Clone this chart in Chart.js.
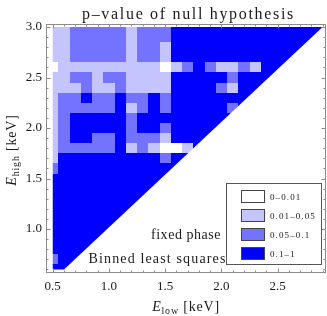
<!DOCTYPE html>
<html>
<head>
<meta charset="utf-8">
<script src="https://cdn.jsdelivr.net/npm/chart.js@4.4.1/dist/chart.umd.min.js"></script>
<style>
html, body {margin: 0; padding: 0; background: #fff;}
</style>
</head>
<body>
<canvas id="chart_p" width="327" height="316"></canvas>
<script>
//E_low 격자 (keV) - 열
const eLow = [0.5, 0.6, 0.7, 0.8, 0.9, 1.0, 1.1, 1.2, 1.3, 1.4, 1.5, 1.6, 1.7, 1.8, 1.9, 2.0, 2.1, 2.2, 2.3, 2.4, 2.5, 2.6, 2.7, 2.8, 2.9];
//E_high 격자 (keV) - 행 (위에서 아래로)
const eHigh = [3.0, 2.9, 2.8, 2.7, 2.6, 2.5, 2.4, 2.3, 2.2, 2.1, 2.0, 1.9, 1.8, 1.7, 1.6, 1.5, 1.4, 1.3, 1.2, 1.1, 1.0, 0.9, 0.8, 0.7, 0.6];
//p-value 등급 (0: 0-0.01, 1: 0.01-0.05, 2: 0.05-0.1, 3: 0.1-1), 행마다 eLow 순서
const pClass = [
    '1122222122233333333333333',
    '1122222122233333333333333',
    '1122222122133333333333333',
    '1122222122133333333333333',
    '0111111111012321121333333',
    '1122122111133333233333333',
    '1112112111133332133333333',
    '1223223223233333333333333',
    '1222223123233333233333333',
    '1233333233333333333333333',
    '1233333233233333333333333',
    '1233223222133333333333333',
    '1222223121001333333333333',
    '1333333333233333333333333',
    '2333333333333333333333333',
    '3333333333333333333333333',
    '3333333333333333333333333',
    '3333333333333333333333333',
    '3333333333333333333333333',
    '3333333333333333333333333',
    '3333333333333333333333333',
    '3333333333333333333333333',
    '3333333333333333333333333',
    '2333333333333333333333333',
    '3333333333333333333333333'
];
const classLabels = ['0–0.01', '0.01–0.05', '0.05–0.1', '0.1–1'];
const classColors = ['#ffffff', '#c4c4ff', '#7373ff', '#0000ff'];
const xTicks = [0.5, 1.0, 1.5, 2.0, 2.5];
const yTicks = [1.0, 1.5, 2.0, 2.5, 3.0];

const SERIF = '"Liberation Serif", "DejaVu Serif", serif';
const TEXT = '#1a1a1a';
const FRAME = '#8c8c8c';

//글자 간격을 늘려 지정 폭에 맞춤
function spacedText(ctx, text, font, x, y, width) {
    ctx.font = font;
    ctx.letterSpacing = '0px';
    const w0 = ctx.measureText(text).width;
    const sp = (width - w0) / text.length;
    ctx.letterSpacing = sp + 'px';
    ctx.textAlign = 'left';
    ctx.fillText(text, x, y);
    ctx.letterSpacing = '0px';
}

//E + 아래첨자 + [keV]
function axisLabel(ctx, sub, x, y) {
    const parts = [
        {t: 'E', font: 'italic 14px ' + SERIF, dy: 0},
        {t: sub, font: '10px ' + SERIF, dy: 3},
        {t: ' [keV]', font: '14px ' + SERIF, dy: 0}
    ];
    ctx.letterSpacing = '0.8px';
    let w = 0;
    parts.forEach(p => { ctx.font = p.font; p.w = ctx.measureText(p.t).width; w += p.w; });
    let cx = x - w / 2;
    ctx.textAlign = 'left';
    parts.forEach(p => { ctx.font = p.font; ctx.fillText(p.t, cx, y + p.dy); cx += p.w; });
    ctx.letterSpacing = '0px';
}

//cell - 삼각형 영역 안에 등급별 색 칠하기
const cellPlugin = {
    id: 'pCells',
    beforeDatasetsDraw(chart) {
        const {ctx, scales: {x, y}} = chart;
        const half = 0.05;
        ctx.save();
        ctx.beginPath();
        ctx.moveTo(x.getPixelForValue(eLow[0]), y.getPixelForValue(eHigh[eHigh.length - 1]));
        ctx.lineTo(x.getPixelForValue(eLow[1]), y.getPixelForValue(eHigh[eHigh.length - 1]));
        ctx.lineTo(x.getPixelForValue(eLow[eLow.length - 1]), y.getPixelForValue(eHigh[0]));
        ctx.lineTo(x.getPixelForValue(eLow[0]), y.getPixelForValue(eHigh[0]));
        ctx.closePath();
        ctx.clip();
        eHigh.forEach((yv, r) => {
            eLow.forEach((xv, c) => {
                const x0 = Math.round(x.getPixelForValue(xv - half));
                const x1 = Math.round(x.getPixelForValue(xv + half));
                const y0 = Math.round(y.getPixelForValue(yv + half));
                const y1 = Math.round(y.getPixelForValue(yv - half));
                ctx.fillStyle = classColors[+pClass[r][c]];
                ctx.fillRect(x0, y0, x1 - x0, y1 - y0);
            });
        });
        ctx.restore();
    }
};

//frame, 눈금, 제목, 범례
const framePlugin = {
    id: 'pFrame',
    afterDraw(chart) {
        const {ctx, chartArea: a, scales: {x, y}} = chart;
        ctx.save();
        ctx.strokeStyle = FRAME;
        ctx.lineWidth = 1;
        ctx.strokeRect(a.left + 0.5, a.top + 0.5, a.right - a.left - 1, a.bottom - a.top - 1);

        //안쪽 눈금 (major 0.5, minor 0.1)
        ctx.beginPath();
        for (let i = 5; i <= 29; i++) {
            const v = i / 10;
            const px = Math.round(x.getPixelForValue(v)) + 0.5;
            const len = (i % 5 === 0) ? 4.5 : 2.5;
            ctx.moveTo(px, a.bottom); ctx.lineTo(px, a.bottom - len);
            ctx.moveTo(px, a.top); ctx.lineTo(px, a.top + len);
        }
        for (let i = 6; i <= 30; i++) {
            const v = i / 10;
            const py = Math.round(y.getPixelForValue(v)) + 0.5;
            const len = (i % 5 === 0) ? 4.5 : 2.5;
            ctx.moveTo(a.left, py); ctx.lineTo(a.left + len, py);
            ctx.moveTo(a.right, py); ctx.lineTo(a.right - len, py);
        }
        ctx.stroke();

        ctx.fillStyle = TEXT;
        ctx.textBaseline = 'alphabetic';
        spacedText(ctx, 'p–value of null hypothesis', '16px ' + SERIF, 82, 19, 213);
        spacedText(ctx, 'fixed phase', '14px ' + SERIF, 151, 238.5, 70);
        spacedText(ctx, 'Binned least squares', '14px ' + SERIF, 88.5, 262.5, 138);

        //축 제목
        axisLabel(ctx, 'low', 186, 311);
        ctx.save();
        ctx.translate(16, 150);
        ctx.rotate(-Math.PI / 2);
        axisLabel(ctx, 'high', 0, 0);
        ctx.restore();

        //legend - 상자
        ctx.fillStyle = '#fff';
        ctx.fillRect(226.5, 183.5, 95, 81);
        ctx.strokeStyle = '#555';
        ctx.strokeRect(226.5, 183.5, 95, 81);
        classLabels.forEach((label, i) => {
            const top = 189.5 + i * 19.3;
            ctx.fillStyle = classColors[i];
            ctx.fillRect(Math.round(241), Math.round(top), 24, 13);
            ctx.strokeStyle = '#444';
            ctx.strokeRect(241.5, Math.round(top) + 0.5, 23, 12);
            ctx.fillStyle = TEXT;
            ctx.font = '9px ' + SERIF;
            ctx.letterSpacing = '1.1px';
            ctx.textAlign = 'left';
            ctx.fillText(label, 270, Math.round(top) + 10);
            ctx.letterSpacing = '0px';
        });
        ctx.restore();
    }
};

const canvas = document.getElementById('chart_p');
new Chart(canvas, {
    type: 'scatter',
    data: {datasets: []},
    options: {
        responsive: false,
        animation: false,
        devicePixelRatio: 1,
        layout: {padding: {top: 24, right: 1, left: 0, bottom: 0}},
        plugins: {legend: {display: false}, tooltip: {enabled: false}},
        scales: {
            x: {
                type: 'linear',
                min: 0.44,
                max: 2.93,
                afterBuildTicks: s => { s.ticks = xTicks.map(v => ({value: v})); },
                afterFit: s => { s.height = 43; },
                grid: {display: false, drawTicks: false},
                border: {display: false},
                ticks: {
                    padding: 6,
                    color: TEXT,
                    maxRotation: 0,
                    autoSkip: false,
                    font: {family: SERIF, size: 13},
                    callback: v => Number(v).toFixed(1)
                }
            },
            y: {
                type: 'linear',
                min: 0.565,
                max: 3.03,
                afterBuildTicks: s => { s.ticks = yTicks.map(v => ({value: v})); },
                afterFit: s => { s.width = 46; },
                grid: {display: false, drawTicks: false},
                border: {display: false},
                ticks: {
                    padding: 4,
                    color: TEXT,
                    autoSkip: false,
                    font: {family: SERIF, size: 13},
                    callback: v => Number(v).toFixed(1)
                }
            }
        }
    },
    plugins: [cellPlugin, framePlugin]
});
</script>
</body>
</html>
